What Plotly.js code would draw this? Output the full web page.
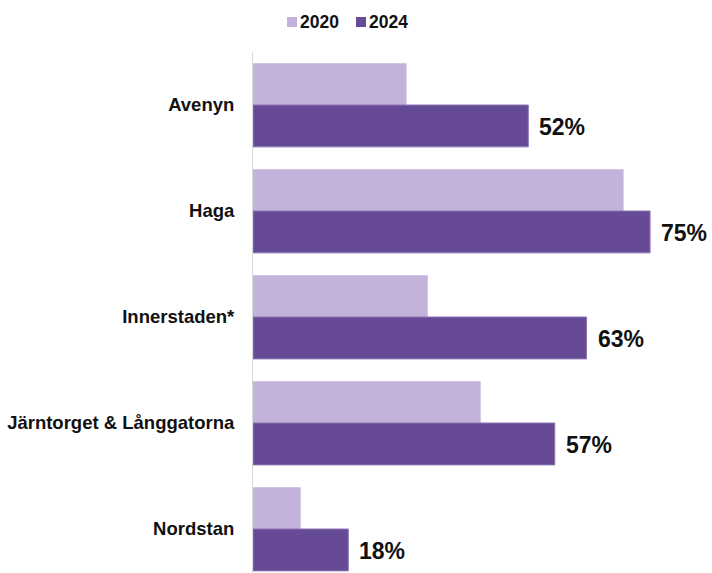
<!DOCTYPE html>
<html>
<head>
<meta charset="utf-8">
<script src="https://cdn.plot.ly/plotly-3.0.1.min.js"></script>
<style>html,body{margin:0;padding:0;background:#fff;}#chart{width:712px;height:573px;}</style>
</head>
<body>
<div id="chart"></div>
<script>
const categories = ["Avenyn", "Haga", "Innerstaden*", "Järntorget & Långgatorna", "Nordstan"];
const values2020 = [29, 70, 33, 43, 9];
const values2024 = [52, 75, 63, 57, 18];
const seriesNames = ["2020", "2024"];
const seriesColors = ["#C3B2DA", "#674A96"];

const FONT = "Arial, 'Liberation Sans', sans-serif";

const traces = [
  {type: "bar", orientation: "h", name: seriesNames[0], y: categories, x: values2020,
   marker: {color: seriesColors[0]}, hoverinfo: "skip", showlegend: false},
  {type: "bar", orientation: "h", name: seriesNames[1], y: categories, x: values2024,
   marker: {color: seriesColors[1], line: {color: "#8B74B5", width: 1}}, hoverinfo: "skip", showlegend: false}
];

const annotations = categories.map((c, i) => ({
  x: values2024[i], y: c, xref: "x", yref: "y",
  text: "<b>" + values2024[i] + "%</b>", showarrow: false,
  xanchor: "left", yanchor: "middle", xshift: 9, yshift: -22,
  font: {family: FONT, size: 23, color: "#111"}
}));

// custom legend (plot area: x 253..703, y 52..573)
const L = 253, W = 450, B = 573, H = 521;
const px = x => (x - L) / W, py = y => (B - y) / H;
const legX = [287, 356];
const shapes = [];
seriesNames.forEach((n, i) => {
  shapes.push({type: "rect", xref: "paper", yref: "paper",
    x0: px(legX[i]), x1: px(legX[i] + 10), y0: py(27), y1: py(17),
    fillcolor: seriesColors[i], line: {width: 0}});
  annotations.push({xref: "paper", yref: "paper", x: px(legX[i] + 11), y: py(22),
    xanchor: "left", yanchor: "middle", showarrow: false,
    text: "<b>" + n + "</b>", font: {family: FONT, size: 17.5, color: "#111"}});
});

const layout = {
  width: 712, height: 573,
  margin: {l: 253, r: 9, t: 52, b: 0},
  paper_bgcolor: "#fff", plot_bgcolor: "#fff",
  barmode: "group", bargap: 0.21, bargroupgap: 0,
  font: {family: FONT, color: "#111"},
  xaxis: {range: [0, 85], showgrid: false, zeroline: false, showticklabels: false, ticks: "", showline: false},
  yaxis: {type: "category", range: [4.415, -0.5], showgrid: false, zeroline: false,
          showline: true, linecolor: "#d9d9d9", linewidth: 1,
          ticks: "outside", ticklen: 14, tickcolor: "rgba(0,0,0,0)",
          tickfont: {family: FONT, size: 18.5, color: "#111"},
          tickvals: categories, ticktext: categories.map(c => "<b>" + c + "</b>")},
  annotations: annotations,
  shapes: shapes,
  showlegend: false
};

Plotly.newPlot("chart", traces, layout, {displayModeBar: false, staticPlot: true});
</script>
</body>
</html>
